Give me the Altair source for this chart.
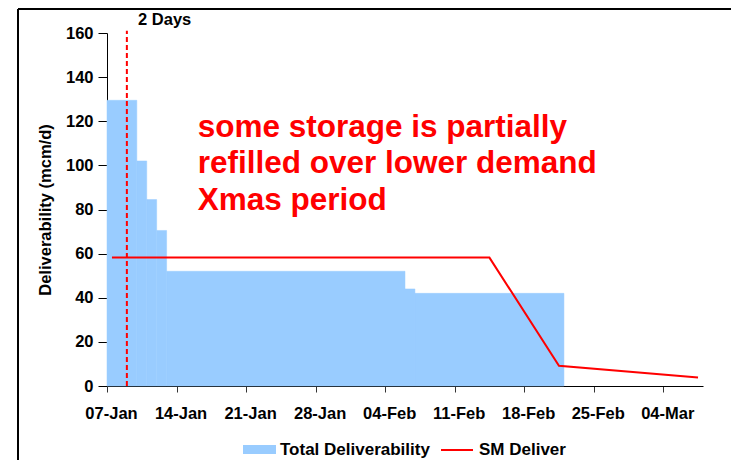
import altair as alt
import pandas as pd

# ---- data ----
bar_start = ["2007-01-07", "2007-01-10", "2007-01-11", "2007-01-12", "2007-01-13", "2007-02-06", "2007-02-07"]
bar_end = ["2007-01-10", "2007-01-11", "2007-01-12", "2007-01-13", "2007-02-06", "2007-02-07", "2007-02-22"]
bar_value = [129.5, 102.0, 84.5, 70.5, 52.0, 44.0, 42.0]

line_dates = ["2007-01-07T12:00", "2007-02-14T12:00", "2007-02-21T12:00", "2007-03-07T12:00"]
line_values = [58.2, 58.2, 9.2, 3.9]

marker_date = ["2007-01-09"]
marker_top = [161]

tick_dates = ["2007-01-07", "2007-01-14", "2007-01-21", "2007-01-28", "2007-02-04",
              "2007-02-11", "2007-02-18", "2007-02-25", "2007-03-04"]
x_domain = ["2007-01-07", "2007-03-08"]
y_ticks = [0, 20, 40, 60, 80, 100, 120, 140, 160]

note_lines = ["some storage is partially", "refilled over lower demand", "Xmas period"]
note_pos = ["2007-01-16T03:00", 113.0]
marker_label = "2 Days"
marker_label_pos = ["2007-01-10T03:00", 163.6]

series_bar = "Total Deliverability"
series_line = "SM Deliver"


def ms(s):
    return int(pd.Timestamp(s, tz="UTC").value // 10**6)


FONT = "Liberation Sans"
BLUE = "#99CCFF"
RED = "#FF0000"

bar_df = pd.DataFrame({
    "start": [ms(s) for s in bar_start],
    "end": [ms(s) for s in bar_end],
    "value": bar_value,
    "bseries": [series_bar] * len(bar_value),
})
line_df = pd.DataFrame({
    "date": [ms(s) for s in line_dates],
    "value": line_values,
    "lseries": [series_line] * len(line_values),
})
marker_df = pd.DataFrame({"date": [ms(s) for s in marker_date], "y0": [0], "y1": marker_top})
note_df = pd.DataFrame({"date": [ms(note_pos[0])], "value": [note_pos[1]]})
mlabel_df = pd.DataFrame({"date": [ms(marker_label_pos[0])], "value": [marker_label_pos[1]],
                          "label": [marker_label]})

x_scale = alt.Scale(type="utc", domain=[ms(x_domain[0]), ms(x_domain[1])], nice=False)
y_scale = alt.Scale(domain=[0, 160], nice=False)

x_axis = alt.Axis(values=[ms(t) for t in tick_dates], labelExpr="utcFormat(datum.value, '%d-%b')",
                  labelFont=FONT, labelFontWeight="bold", labelFontSize=16.5, labelColor="black",
                  tickSize=6, tickColor="#333333", domainColor="black", labelPadding=13,
                  grid=False, title=None, labelFlush=False, labelOverlap=False, labelOffset=4)
y_axis = alt.Axis(values=y_ticks, labelFont=FONT, labelFontWeight="bold", labelFontSize=16.5,
                  labelColor="black", tickSize=9, tickColor="black", domainColor="black",
                  labelPadding=5, grid=False, title="Deliverability (mcm/d)", titleFont=FONT,
                  titleFontWeight="bold", titleFontSize=16.5, titleColor="black", titlePadding=12)

bars = alt.Chart(bar_df).mark_rect(stroke=BLUE, strokeWidth=0.5).encode(
    x=alt.X("start:T", scale=x_scale, axis=x_axis),
    x2="end:T",
    y=alt.Y("value:Q", scale=y_scale, axis=y_axis),
    y2=alt.datum(0),
    fill=alt.Fill("bseries:N", scale=alt.Scale(domain=[series_bar], range=[BLUE]),
                  legend=alt.Legend(orient="none", legendX=136, legendY=400, title=None,
                                    symbolType="M-1,-0.2727L1,-0.2727L1,0.2727L-1,0.2727Z",
                                    symbolSize=1089, symbolStrokeWidth=0, labelFont=FONT,
                                    labelFontSize=17, labelFontWeight="bold", labelColor="black",
                                    labelOffset=4, padding=0)),
)

line = alt.Chart(line_df).mark_line(strokeWidth=2).encode(
    x="date:T",
    y="value:Q",
    stroke=alt.Stroke("lseries:N", scale=alt.Scale(domain=[series_line], range=[RED]),
                      legend=alt.Legend(orient="none", legendX=333, legendY=400, title=None,
                                        symbolType="stroke", symbolSize=1024,
                                        symbolStrokeWidth=2, labelFont=FONT, labelFontSize=17,
                                        labelFontWeight="bold", labelColor="black",
                                        labelOffset=5, padding=0)),
)

marker = alt.Chart(marker_df).mark_rule(color=RED, strokeWidth=2, strokeDash=[5, 3]).encode(
    x="date:T", y="y0:Q", y2="y1:Q"
)

mlabel = alt.Chart(mlabel_df).mark_text(
    align="left", baseline="alphabetic", font=FONT, fontWeight="bold", fontSize=16.5, color="black"
).encode(x="date:T", y="value:Q", text="label:N")

note = alt.Chart(note_df).mark_text(
    align="left", baseline="alphabetic", font=FONT, fontWeight="bold", fontSize=31.5,
    lineHeight=36.7, color=RED, text=note_lines
).encode(x="date:T", y="value:Q")

frame_df = pd.DataFrame({"k": [0]})
frame_top = alt.Chart(frame_df).mark_rule(color="black", strokeWidth=2).encode(
    x=alt.value(-89), x2=alt.value(640), y=alt.value(-24)
)
frame_left = alt.Chart(frame_df).mark_rule(color="black", strokeWidth=2).encode(
    x=alt.value(-89), y=alt.value(-24), y2=alt.value(430)
)

chart = alt.layer(bars, line, marker, mlabel, note, frame_top, frame_left).resolve_scale(
    fill="independent", stroke="independent"
).properties(
    width=596, height=353,
    autosize=alt.AutoSizeParams(type="none"),
    padding={"left": 99, "top": 25, "right": 28, "bottom": 74},
    background="white",
).configure_view(stroke=None)

chart.save("out.html", embed_options={"renderer": "svg", "actions": False})
